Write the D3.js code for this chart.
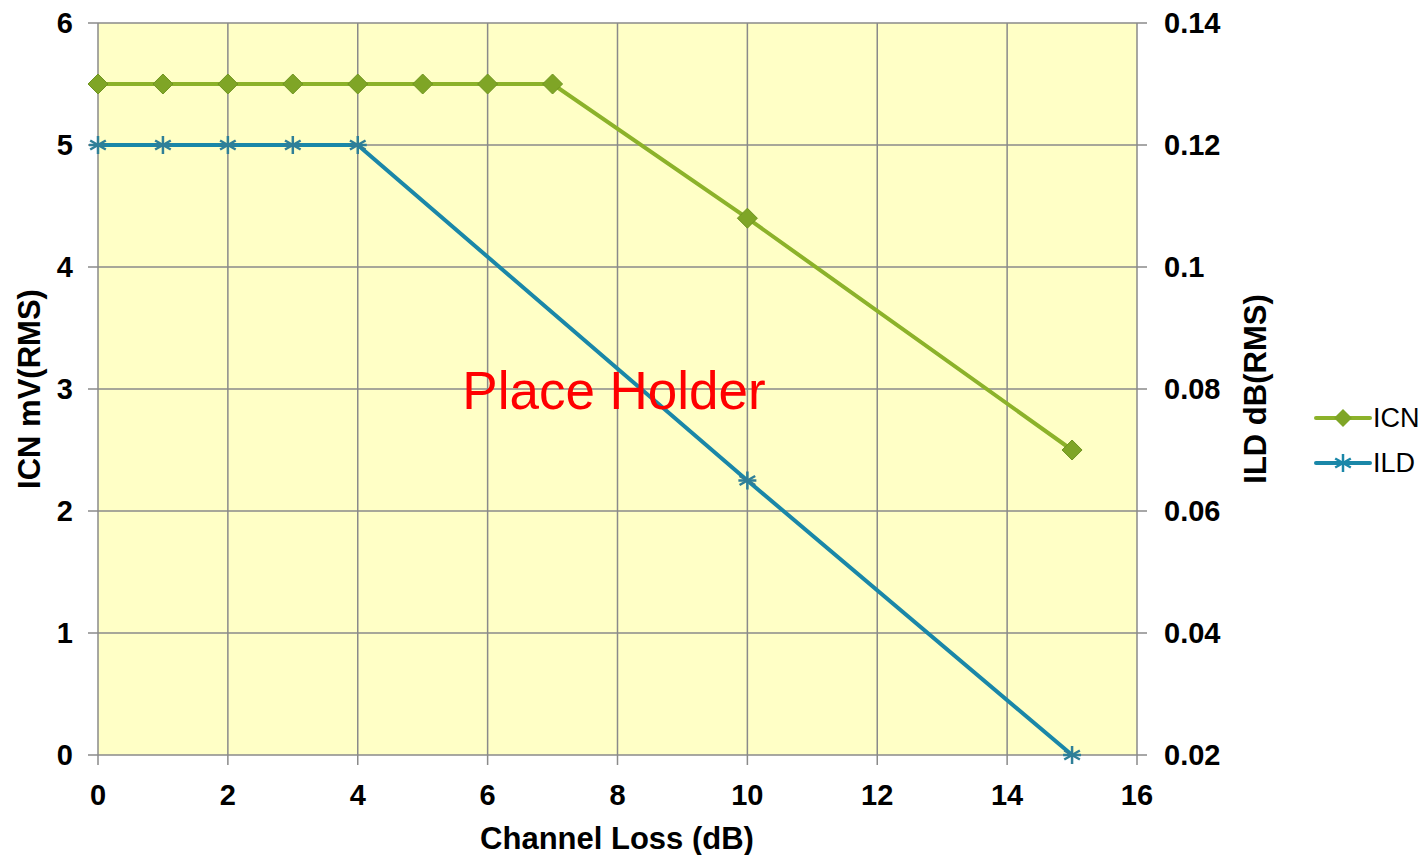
<!DOCTYPE html>
<html>
<head>
<meta charset="utf-8">
<script src="https://cdn.jsdelivr.net/npm/d3@7"></script>
<style>
  body { margin: 0; background: #fff; }
  text { font-family: "Liberation Sans", Arial, sans-serif; }
</style>
</head>
<body>
<script>
// data
var icnX = [0, 1, 2, 3, 4, 5, 6, 7, 10, 15];
var icnY = [5.5, 5.5, 5.5, 5.5, 5.5, 5.5, 5.5, 5.5, 4.4, 2.5];
var ildX = [0, 1, 2, 3, 4, 10, 15];
var ildY = [0.12, 0.12, 0.12, 0.12, 0.12, 0.065, 0.02];
var xTicks = [0, 2, 4, 6, 8, 10, 12, 14, 16];
var yLeftTicks = [0, 1, 2, 3, 4, 5, 6];
var yRightTicks = [0.02, 0.04, 0.06, 0.08, 0.1, 0.12, 0.14];

var w = 1423, h = 855;
var plotLeft = 98, plotRight = 1137, plotTop = 23, plotBottom = 755;
var green = "#8cb22a", blue = "#1a87a8";

var svg = d3.select("body").append("svg")
  .attr("width", w)
  .attr("height", h);

var x = d3.scaleLinear().domain([0, 16]).range([plotLeft, plotRight]);
var yL = d3.scaleLinear().domain([0, 6]).range([plotBottom, plotTop]);
var yR = d3.scaleLinear().domain([0.02, 0.14]).range([plotBottom, plotTop]);

svg.append("rect")
  .attr("x", plotLeft).attr("y", plotTop)
  .attr("width", plotRight - plotLeft).attr("height", plotBottom - plotTop)
  .attr("fill", "#ffffc6");

// grid
svg.append("g").selectAll("line").data(xTicks).enter().append("line")
  .attr("x1", d => x(d)).attr("x2", d => x(d))
  .attr("y1", plotTop).attr("y2", plotBottom + 10)
  .attr("stroke", "#8a8a8a").attr("stroke-width", 1.5);
svg.append("g").selectAll("line").data(yLeftTicks).enter().append("line")
  .attr("x1", plotLeft - 10).attr("x2", plotRight + 10)
  .attr("y1", d => yL(d)).attr("y2", d => yL(d))
  .attr("stroke", "#8a8a8a").attr("stroke-width", 1.5);

// tick labels
svg.append("g").selectAll("text").data(xTicks).enter().append("text")
  .attr("x", d => x(d)).attr("y", 805)
  .attr("text-anchor", "middle")
  .attr("font-size", 29).attr("font-weight", "bold")
  .text(d => d);
svg.append("g").selectAll("text").data(yLeftTicks).enter().append("text")
  .attr("x", 73).attr("y", d => yL(d) + 10)
  .attr("text-anchor", "end")
  .attr("font-size", 29).attr("font-weight", "bold")
  .text(d => d);
svg.append("g").selectAll("text").data(yRightTicks).enter().append("text")
  .attr("x", 1164).attr("y", d => yR(d) + 10)
  .attr("text-anchor", "start")
  .attr("font-size", 29).attr("font-weight", "bold")
  .text(d => d3.format("~g")(d));

// axis titles
svg.append("text")
  .attr("x", 617).attr("y", 849)
  .attr("text-anchor", "middle")
  .attr("font-size", 31).attr("font-weight", "bold")
  .text("Channel Loss (dB)");
svg.append("text")
  .attr("transform", "translate(40,389) rotate(-90)")
  .attr("text-anchor", "middle")
  .attr("font-size", 31).attr("font-weight", "bold")
  .text("ICN mV(RMS)");
svg.append("text")
  .attr("transform", "translate(1266,389) rotate(-90)")
  .attr("text-anchor", "middle")
  .attr("font-size", 31).attr("font-weight", "bold")
  .text("ILD dB(RMS)");

// series
var icn = icnX.map((d, i) => [d, icnY[i]]);
var ild = ildX.map((d, i) => [d, ildY[i]]);

svg.append("path")
  .attr("d", d3.line().x(d => x(d[0])).y(d => yR(d[1]))(ild))
  .attr("fill", "none").attr("stroke", blue).attr("stroke-width", 4);
svg.append("path")
  .attr("d", d3.line().x(d => x(d[0])).y(d => yL(d[1]))(icn))
  .attr("fill", "none").attr("stroke", green).attr("stroke-width", 4);

function star(g, cx, cy, r, color) {
  [0, 60, 120].forEach(function(a) {
    var rad = a * Math.PI / 180;
    g.append("line")
      .attr("x1", cx - r * Math.sin(rad)).attr("y1", cy - r * Math.cos(rad))
      .attr("x2", cx + r * Math.sin(rad)).attr("y2", cy + r * Math.cos(rad))
      .attr("stroke", color).attr("stroke-width", 2.5);
  });
  g.append("line")
    .attr("x1", cx - r).attr("x2", cx + r).attr("y1", cy).attr("y2", cy)
    .attr("stroke", color).attr("stroke-width", 2.5);
}

var ildMarks = svg.append("g");
ild.forEach(d => star(ildMarks, x(d[0]), yR(d[1]), 9, "#2f7f98"));

svg.append("g").selectAll("path").data(icn).enter().append("path")
  .attr("d", "M0,-10L10,0L0,10L-10,0Z")
  .attr("transform", d => "translate(" + x(d[0]) + "," + yL(d[1]) + ")")
  .attr("fill", "#7fa526").attr("stroke", "#6f9420").attr("stroke-width", 1);

// placeholder
svg.append("text")
  .attr("x", 614).attr("y", 409)
  .attr("text-anchor", "middle")
  .attr("font-size", 53).attr("fill", "#ff0000")
  .text("Place Holder");

// legend
var legend = svg.append("g");
legend.append("line").attr("x1", 1316).attr("x2", 1370).attr("y1", 418).attr("y2", 418)
  .attr("stroke", green).attr("stroke-width", 4).attr("stroke-linecap", "round");
legend.append("path").attr("d", "M0,-9L9,0L0,9L-9,0Z")
  .attr("transform", "translate(1343,418)").attr("fill", "#7fa526");
legend.append("text").attr("x", 1373).attr("y", 427).attr("font-size", 27).text("ICN");
legend.append("line").attr("x1", 1316).attr("x2", 1370).attr("y1", 463).attr("y2", 463)
  .attr("stroke", blue).attr("stroke-width", 4).attr("stroke-linecap", "round");
star(legend, 1343, 463, 9, blue);
legend.append("text").attr("x", 1373).attr("y", 472).attr("font-size", 27).text("ILD");
</script>
</body>
</html>
